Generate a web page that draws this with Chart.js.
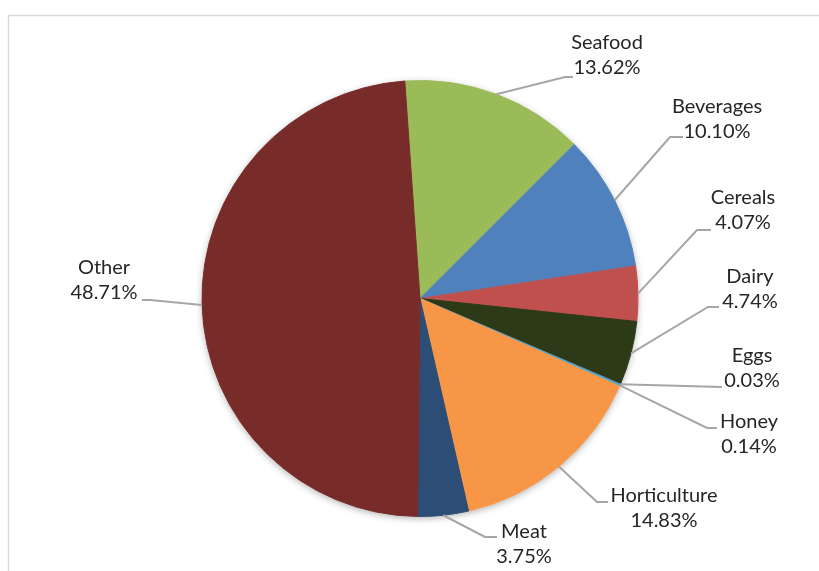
<!DOCTYPE html>
<html>
<head>
<meta charset="utf-8">
<script src="https://cdn.jsdelivr.net/npm/chart.js@4.4.0/dist/chart.umd.min.js"></script>
<style>
    html, body { margin: 0; padding: 0; background: #fff; }
</style>
</head>
<body>
<canvas id="myChart" width="819" height="571"></canvas>
<script>
const categories = ['Seafood', 'Beverages', 'Cereals', 'Dairy', 'Eggs', 'Honey', 'Horticulture', 'Meat', 'Other'];
const shares = [13.62, 10.10, 4.07, 4.74, 0.03, 0.14, 14.83, 3.75, 48.71];
const sliceColors = ['#9bbb59', '#4f81bd', '#c0504d', '#2c3a17', '#8064a2', '#4bacc6', '#f79646', '#2c4d75', '#772c2a'];

// where each label sits: text centre (tx, ty), leader elbow (ex, ey), leader end x (hx)
const labelSpots = [
    {tx: 607, ty: 55, ex: 565, ey: 77, hx: 573},
    {tx: 717, ty: 119, ex: 670, ey: 137, hx: 683},
    {tx: 743, ty: 210, ex: 697, ey: 230, hx: 711},
    {tx: 750, ty: 289, ex: 708, ey: 307, hx: 719},
    {tx: 752, ty: 368, ex: 722, ey: 387, hx: 722},
    {tx: 749, ty: 434, ex: 707, ey: 428, hx: 717},
    {tx: 664, ty: 508, ex: 597, ey: 502, hx: 608},
    {tx: 524, ty: 544, ex: 485, ey: 537, hx: 497},
    {tx: 104, ty: 280, ex: 150, ey: 300, hx: 142},
];

const frame = {
    id: 'frame',
    beforeDraw(chart) {
        const c = chart.ctx;
        c.save();
        c.strokeStyle = '#d9d9d9';
        c.lineWidth = 1.5;
        c.beginPath();
        c.moveTo(8.5, chart.height);
        c.lineTo(8.5, 15.5);
        c.lineTo(chart.width, 15.5);
        c.stroke();
        c.restore();
    },
    beforeDatasetsDraw(chart) {
        const arc = chart.getDatasetMeta(0).data[0];
        const c = chart.ctx;
        c.save();
        c.shadowColor = 'rgba(0,0,0,0.3)';
        c.shadowBlur = 7;
        c.shadowOffsetY = 2;
        c.fillStyle = '#fff';
        c.beginPath();
        c.arc(arc.x, arc.y, arc.outerRadius, 0, Math.PI * 2);
        c.fill();
        c.restore();
    }
};

const pieLabels = {
    id: 'pieLabels',
    afterDatasetsDraw(chart) {
        const c = chart.ctx;
        const arcs = chart.getDatasetMeta(0).data;
        c.save();
        arcs.forEach((a, i) => {
            const s = labelSpots[i];
            const mid = (a.startAngle + a.endAngle) / 2;
            const px = a.x + Math.cos(mid) * a.outerRadius;
            const py = a.y + Math.sin(mid) * a.outerRadius;
            c.strokeStyle = '#a6a6a6';
            c.lineWidth = 2;
            c.beginPath();
            c.moveTo(px, py);
            c.lineTo(s.ex, s.ey);
            c.lineTo(s.hx, s.ey);
            c.stroke();

            c.fillStyle = '#262626';
            c.font = '20px Lato';
            c.textAlign = 'center';
            c.textBaseline = 'middle';
            c.fillText(categories[i], s.tx, s.ty - 12.5);
            c.fillText(shares[i].toFixed(2) + '%', s.tx, s.ty + 12.5);
        });
        c.restore();
    }
};

new Chart(document.getElementById('myChart'), {
    type: 'pie',
    data: {
        labels: categories,
        datasets: [{
            data: shares,
            backgroundColor: sliceColors,
            borderColor: sliceColors,
            borderWidth: 1,
            hoverOffset: 0,
        }],
    },
    options: {
        responsive: false,
        animation: false,
        rotation: -4,
        layout: {
            padding: {left: 201.5, right: 180.5, top: 80, bottom: 54},
        },
        plugins: {
            legend: {display: false},
            tooltip: {enabled: false},
        },
    },
    plugins: [frame, pieLabels],
});
</script>
</body>
</html>
